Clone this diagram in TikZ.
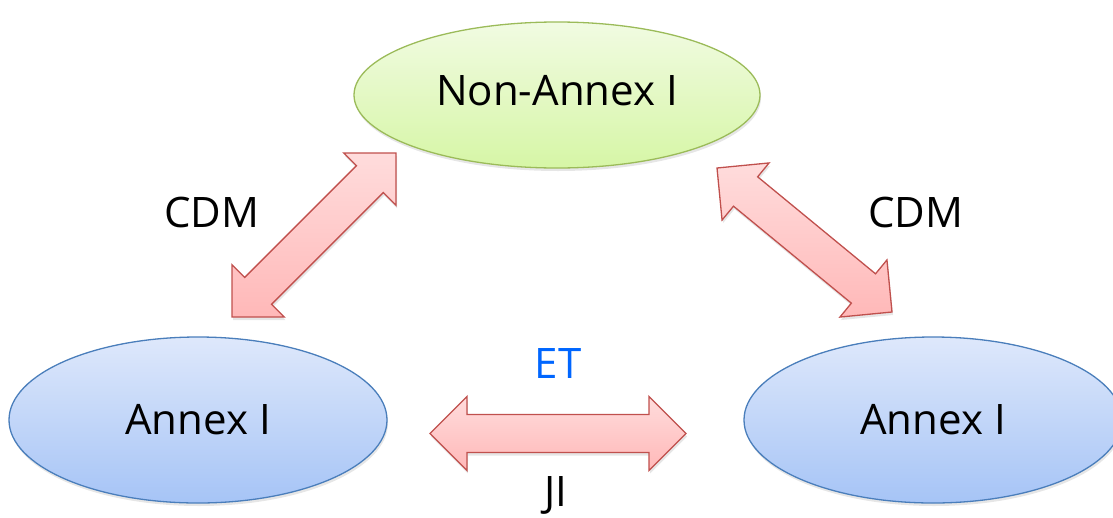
\documentclass[tikz,border=0pt]{standalone}
\usepackage{fontspec}
\setmainfont{Open Sans}
\usepackage{tikz}
\usetikzlibrary{shapes.geometric,calc,shadows}

\definecolor{nonfill1}{RGB}{241,251,226}
\definecolor{nonfill2}{RGB}{214,246,166}
\definecolor{nonline}{RGB}{155,187,89}
\definecolor{anxfill1}{RGB}{222,232,251}
\definecolor{anxfill2}{RGB}{166,196,246}
\definecolor{anxline}{RGB}{74,126,187}
\definecolor{arrfill1}{RGB}{255,220,220}
\definecolor{arrfill2}{RGB}{255,184,184}
\definecolor{arrline}{RGB}{192,80,77}
\definecolor{etblue}{RGB}{0,102,255}

\tikzset{
    party/.style = {ellipse, inner sep = 0pt, line width = 1.3pt,
        font = \fontsize{42}{50}\selectfont,
        drop shadow = {opacity = 0.2, shadow xshift = 1pt, shadow yshift = -3pt}},
    nonannex/.style = {party, draw = nonline, top color = nonfill1, bottom color = nonfill2},
    annex/.style = {party, draw = anxline, top color = anxfill1, bottom color = anxfill2},
    fatarrow/.style = {draw = arrline, line width = 1.3pt, line join = miter,
        top color = arrfill1, bottom color = arrfill2,
        drop shadow = {opacity = 0.2, shadow xshift = 1pt, shadow yshift = -3pt}},
    mech/.style = {anchor = base, inner sep = 0pt, font = \fontsize{42}{50}\selectfont}
}

% fat double arrow between two coordinates (head 37pt long, 37pt half width, shaft 19pt)
\newcommand{\fatarrow}[2]{%
    \path[fatarrow] (#1) -- ($(#1)!52.3pt!45:(#2)$) -- ($(#1)!41.6pt!27.2:(#2)$)
        -- ($(#2)!41.6pt!-27.2:(#1)$) -- ($(#2)!52.3pt!-45:(#1)$) -- (#2)
        -- ($(#2)!52.3pt!45:(#1)$) -- ($(#2)!41.6pt!27.2:(#1)$)
        -- ($(#1)!41.6pt!-27.2:(#2)$) -- ($(#1)!52.3pt!-45:(#2)$) -- cycle;}

\begin{document}
\begin{tikzpicture}[x = 1pt, y = -1pt]
    % picture size
    \useasboundingbox (0,0) rectangle (1113,517);
    \clip (0,0) rectangle (1113,517);

    % parties
    \node[nonannex, minimum width = 406pt, minimum height = 146pt, text depth = 9pt]
        (non) at (557,95) {Non-Annex I};
    \node[annex, minimum width = 378pt, minimum height = 166pt] (anxL) at (198,420) {Annex I};
    \node[annex, minimum width = 378pt, minimum height = 166pt] (anxR) at (933,420) {Annex I};

    % arrow ends
    \coordinate (cdmL-a) at (232,317);
    \coordinate (cdmL-b) at (396,153);
    \coordinate (cdmR-a) at (717,168);
    \coordinate (cdmR-b) at (892,312);
    \coordinate (et-a) at (430,433.5);
    \coordinate (et-b) at (686,433.5);

    % mechanisms
    \fatarrow{cdmL-a}{cdmL-b}
    \fatarrow{cdmR-a}{cdmR-b}
    \fatarrow{et-a}{et-b}

    % labels
    \node[mech] (cdmL) at (212,227) {CDM};
    \node[mech] (cdmR) at (916,227) {CDM};
    \node[mech, text = etblue] (et) at (558,378) {ET};
    \node[mech] (ji) at (556,506) {JI};
\end{tikzpicture}
\end{document}
